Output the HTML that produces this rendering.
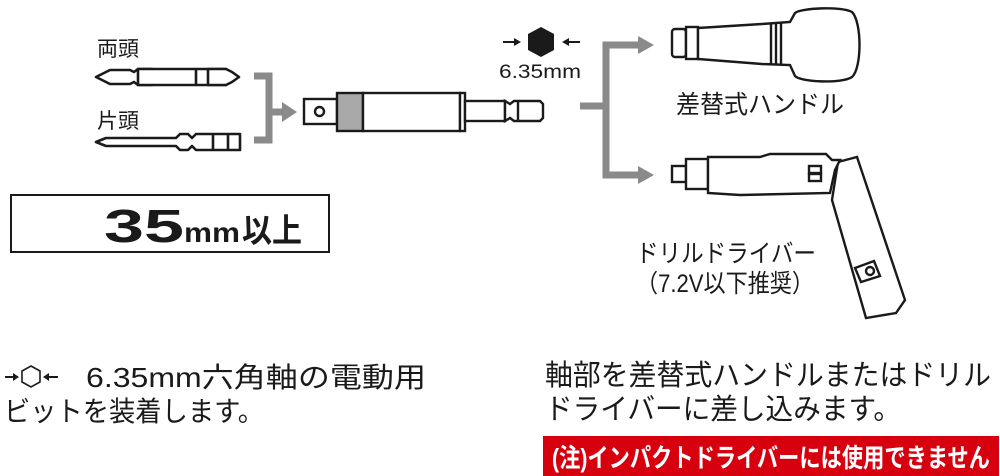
<!DOCTYPE html>
<html><head><meta charset="utf-8"><style>
html,body{margin:0;padding:0;background:#fff;}
svg{display:block;}
text{font-family:"Liberation Sans","Noto Sans CJK JP",sans-serif;fill:#1a1a1a;}
</style></head><body>
<svg width="1000" height="476" viewBox="0 0 1000 476" xmlns="http://www.w3.org/2000/svg">
<text x="97" y="56" font-size="21" textLength="42" lengthAdjust="spacingAndGlyphs">両頭</text>
<text x="97" y="128" font-size="21" textLength="42" lengthAdjust="spacingAndGlyphs">片頭</text>
<g fill="#fff" stroke="#1a1a1a" stroke-width="2.6" stroke-linejoin="round">
<path d="M96,77 L110,70 L130,70 L134,72 L138,69 L152,69 L152,85 L138,85 L134,82 L130,84 L110,84 Z"/>
<rect x="138" y="69" width="88" height="16"/>
<path d="M226,69 L208,69 L208,85 L226,85 L232,82 L239,77 L232,72 Z"/>
<line x1="196" y1="69" x2="196" y2="85"/>
<path d="M96,142 L106,138 L176,138 L180,134 L188,134 L192,138 L196,134 L240,134 L240,150 L196,150 L192,146 L188,150 L180,150 L176,146 L106,146 Z"/>
<line x1="213" y1="134" x2="213" y2="150"/>
<line x1="228" y1="134" x2="228" y2="150"/>
</g>
<g stroke="#8a8a8a" stroke-width="7" fill="none">
<path d="M254,76 H269 V140 H254"/>
<line x1="269" y1="112" x2="284" y2="112"/>
</g>
<polygon points="282,102 297,112 282,122" fill="#8a8a8a"/>
<g stroke="#1a1a1a" stroke-width="2.4" fill="#fff">
<rect x="304" y="99" width="33" height="25"/>
<rect x="315" y="107" width="9" height="9" rx="4.5"/>
<rect x="337" y="93" width="26" height="38" fill="#a8a8a8"/>
<rect x="363" y="93" width="97" height="38"/>
<rect x="460" y="93" width="5" height="38"/>
<rect x="465" y="101" width="40" height="20"/>
<path d="M505,101 L510,104 L514,101 L540,101 L543,104 L543,118 L540,121 L514,121 L510,118 L505,121 Z"/>
<line x1="518" y1="101" x2="518" y2="121"/>
</g>
<polygon points="541,27 554,34 554,50 541,57 528,50 528,34" fill="#1a1a1a"/>
<line x1="503" y1="42" x2="515" y2="42" stroke="#1a1a1a" stroke-width="2"/>
<polygon points="514,38 521,42 514,46" fill="#1a1a1a"/>
<line x1="568" y1="42" x2="580" y2="42" stroke="#1a1a1a" stroke-width="2"/>
<polygon points="569,38 562,42 569,46" fill="#1a1a1a"/>
<text x="499" y="78" font-size="19" textLength="82" lengthAdjust="spacingAndGlyphs">6.35mm</text>
<g stroke="#8a8a8a" stroke-width="7" fill="none">
<line x1="580" y1="106" x2="606" y2="106"/>
<path d="M640,45 H606 V175 H640"/>
</g>
<polygon points="638,36 654,45 638,54" fill="#8a8a8a"/>
<polygon points="638,166 654,175 638,184" fill="#8a8a8a"/>
<g stroke="#1a1a1a" stroke-width="2.4" fill="#fff">
<rect x="672" y="29" width="14" height="28" rx="3"/>
<rect x="686" y="27" width="12" height="32"/>
<path d="M698,28 L762,24 L790,22 L795,13 C800,8 842,6 852,12 C862,22 862,68 852,77 C842,84 800,82 795,76 L790,65 L762,64 L698,59 Z"/>
<line x1="771" y1="24" x2="771" y2="64"/>
<line x1="776" y1="23" x2="776" y2="65"/>
<line x1="781" y1="23" x2="781" y2="65"/>
</g>
<text x="676" y="113" font-size="25" textLength="168" lengthAdjust="spacingAndGlyphs">差替式ハンドル</text>
<g stroke="#1a1a1a" stroke-width="2.4" fill="#fff">
<path d="M838,162 L857,157 L905,300 L896,313 L866,318 L832,200 Z"/>
<path d="M855,268 L874,261 L880,276 L861,282 Z"/>
<circle cx="870" cy="271" r="4"/>
<rect x="672" y="166" width="14" height="16"/>
<rect x="686" y="159" width="22" height="30"/>
<path d="M708,157 L760,157 L770,154 L826,154 L832,160 L840,160 L835,170 L830,193 L740,195 L708,193 Z"/>
<rect x="809" y="166" width="12" height="7"/>
<rect x="809" y="174" width="12" height="7"/>
</g>
<text x="636" y="262" font-size="25" textLength="180" lengthAdjust="spacingAndGlyphs">ドリルドライバー</text>
<text x="636" y="292" font-size="25" textLength="178" lengthAdjust="spacingAndGlyphs">（7.2V以下推奨）</text>
<rect x="11" y="195" width="318" height="57" fill="#fff" stroke="#1a1a1a" stroke-width="2"/>
<text x="104" y="242" font-size="46" font-weight="bold" textLength="80" lengthAdjust="spacingAndGlyphs">35</text>
<text x="184" y="242" font-size="28" font-weight="bold" textLength="56" lengthAdjust="spacingAndGlyphs">mm</text>
<text x="242" y="242" font-size="33" font-weight="bold" textLength="60" lengthAdjust="spacingAndGlyphs">以上</text>
<line x1="5" y1="377" x2="14" y2="377" stroke="#1a1a1a" stroke-width="2"/>
<polygon points="13,373 19,377 13,381" fill="#1a1a1a"/>
<polygon points="31,366 40,371 40,382 31,387 22,382 22,371" fill="none" stroke="#1a1a1a" stroke-width="1.6"/>
<line x1="48" y1="377" x2="58" y2="377" stroke="#1a1a1a" stroke-width="2"/>
<polygon points="49,373 43,377 49,381" fill="#1a1a1a"/>
<text x="86" y="387" font-size="28" textLength="340" lengthAdjust="spacingAndGlyphs">6.35mm六角軸の電動用</text>
<text x="4" y="421" font-size="28" textLength="260" lengthAdjust="spacingAndGlyphs">ビットを装着します。</text>
<text x="545" y="385" font-size="29" textLength="446" lengthAdjust="spacingAndGlyphs">軸部を差替式ハンドルまたはドリル</text>
<text x="545" y="419" font-size="29" textLength="356" lengthAdjust="spacingAndGlyphs">ドライバーに差し込みます。</text>
<rect x="543" y="436" width="456" height="40" fill="#d7000f"/>
<text x="552" y="467" font-size="26" font-weight="bold" style="fill:#fff" textLength="438" lengthAdjust="spacingAndGlyphs">(注)インパクトドライバーには使用できません</text>
</svg>
</body></html>
